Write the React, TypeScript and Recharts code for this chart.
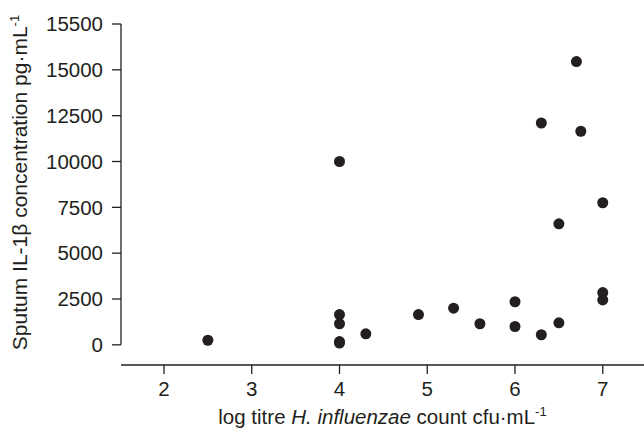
import { ScatterChart, Scatter, XAxis, YAxis, ReferenceLine, Label } from "recharts";

// log titre H. influenzae (x) vs sputum IL-1β (y)
const titres = [2.5, 4, 4, 4, 4, 4, 4.3, 4.9, 5.3, 5.6, 6, 6, 6.3, 6.3, 6.5, 6.5, 6.7, 6.75, 7, 7, 7];
const il1b = [250, 10000, 1650, 1150, 100, 180, 600, 1650, 2000, 1150, 2350, 1000, 12100, 550, 6600, 1200, 15450, 11650, 7750, 2850, 2450];

const xTicks = [2, 3, 4, 5, 6, 7];
const yTicks = [0, 2500, 5000, 7500, 10000, 12500, 15000, 17500];
const yTickLabels = ["0", "2500", "5000", "7500", "10000", "12500", "15000", "15500"];

const points = titres.map((t, i) => ({ titre: t, il1b: il1b[i] }));

const INK = "#231f20";
const FONT = "'Liberation Sans', Arial, sans-serif";
const X_MIN = 1.51;

const Dot = (props: any) => <circle cx={props.cx} cy={props.cy} r={5.5} fill={INK} />;

const XTitle = (props: any) => {
  const { x, y, width, height } = props.viewBox;
  return (
    <text x={x + width / 2} y={y + height - 5} textAnchor="middle" fontSize={20.5} fill={INK} fontFamily={FONT}>
      log titre <tspan fontStyle="italic">H. influenzae</tspan> count cfu·mL
      <tspan dy={-8} fontSize={13}>-1</tspan>
    </text>
  );
};

const YTitle = (props: any) => {
  const { x, y, height } = props.viewBox;
  const cx = x + 27;
  const cy = y + height / 2 - 12;
  return (
    <text x={cx} y={cy} transform={`rotate(-90 ${cx} ${cy})`} textAnchor="middle" fontSize={21} fill={INK} fontFamily={FONT}>
      Sputum IL-1β concentration pg·mL
      <tspan dy={-8} fontSize={13}>-1</tspan>
    </text>
  );
};

export default function App() {
  return (
    <div style={{ position: "absolute", left: 0, top: 0, background: "#fff" }}>
      <ScatterChart width={644} height={429} margin={{ top: 24, right: 0, bottom: 0, left: 0 }}>
        <XAxis
          type="number"
          dataKey="titre"
          domain={[X_MIN, 7.47]}
          ticks={xTicks}
          allowDataOverflow
          height={64}
          tickSize={9}
          tickMargin={7}
          stroke={INK}
          strokeWidth={1.3}
          tick={{ fill: INK, fontSize: 20.5, fontFamily: FONT }}
        >
          <Label content={XTitle} />
        </XAxis>
        <YAxis
          type="number"
          dataKey="il1b"
          domain={[-1100, 17500]}
          ticks={yTicks}
          allowDataOverflow
          interval={0}
          width={121}
          axisLine={false}
          tickSize={9}
          tickMargin={9}
          stroke={INK}
          strokeWidth={1.3}
          tickFormatter={(v: number) => yTickLabels[yTicks.indexOf(v)] ?? String(v)}
          tick={{ fill: INK, fontSize: 20.5, fontFamily: FONT }}
        >
          <Label content={YTitle} />
        </YAxis>
        <ReferenceLine
          segment={[{ x: X_MIN, y: 0 }, { x: X_MIN, y: 17500 }]}
          stroke={INK}
          strokeWidth={1.3}
          ifOverflow="visible"
        />
        <Scatter data={points} shape={Dot} isAnimationActive={false} />
      </ScatterChart>
    </div>
  );
}
